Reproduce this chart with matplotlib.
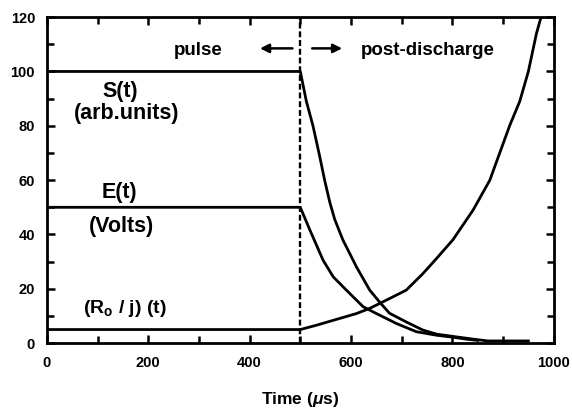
import matplotlib
matplotlib.use("Agg")
import matplotlib.pyplot as plt
from matplotlib.ticker import MultipleLocator

plt.rcParams['font.family'] = ['Liberation Sans', 'DejaVu Sans']
plt.rcParams['font.weight'] = 'bold'
plt.rcParams['mathtext.fontset'] = 'custom'
plt.rcParams['mathtext.rm'] = 'Liberation Sans:bold'
plt.rcParams['mathtext.bf'] = 'Liberation Sans:bold'
plt.rcParams['mathtext.it'] = 'Liberation Sans:italic:bold'

# Data
S_t = [0, 500, 512, 525, 538, 548, 558, 568, 584, 611, 637, 657, 676, 709, 742, 769, 800, 840, 870, 950]
S_v = [100, 100, 89, 80, 69, 60, 52, 45.5, 38, 28, 19.5, 15, 11, 7.8, 4.8, 3.3, 2.5, 1.5, 0.8, 0.8]

E_t = [0, 500, 519, 545, 565, 591, 624, 650, 690, 729, 769, 800, 830, 850]
E_v = [50, 50, 41.6, 30.5, 24.4, 19.5, 13.4, 10.9, 7.2, 4.2, 2.9, 2.2, 1.4, 1.0]

R_t = [0, 500, 532, 578, 611, 637, 676, 709, 742, 769, 801, 841, 874, 913, 933, 950, 966, 975]
R_v = [5, 5, 6.6, 9.1, 10.9, 12.8, 16.4, 19.5, 25.6, 31.2, 38, 49, 60, 80, 89, 100, 114, 120]

pulse_end = 500

fig = plt.figure(figsize=(5.72, 4.08), dpi=100)
ax = fig.add_axes([0.082, 0.159, 0.886, 0.799])

lw = 2.0
ax.plot(S_t, S_v, color='black', lw=lw)
ax.plot(E_t, E_v, color='black', lw=lw)
ax.plot(R_t, R_v, color='black', lw=lw)
ax.plot([pulse_end, pulse_end], [0, 120], color='black', lw=1.7, ls=(0, (2.5, 1.2)))

ax.set_xlim(0, 1000)
ax.set_ylim(0, 120)
ax.xaxis.set_major_locator(MultipleLocator(200))
ax.xaxis.set_minor_locator(MultipleLocator(100))
ax.yaxis.set_major_locator(MultipleLocator(20))
ax.yaxis.set_minor_locator(MultipleLocator(10))
ax.tick_params(which='both', direction='in', top=True, right=True, width=1.8, labelsize=10.5)
ax.tick_params(which='major', length=6)
ax.tick_params(which='minor', length=5)
ax.tick_params(axis='x', which='major', pad=9.5)
ax.tick_params(axis='y', which='major', pad=8.5)
for sp in ax.spines.values():
    sp.set_linewidth(2.0)
for lab in ax.get_xticklabels() + ax.get_yticklabels():
    lab.set_fontweight('bold')

ax.set_xlabel(r'Time ($\mathit{\mu}$s)', fontsize=12.5, fontweight='bold', labelpad=14)

fs_top = 13.5
fs_lab = 15.5
ax.text(298, 107.7, 'pulse', ha='center', va='center', fontsize=fs_top, fontweight='bold')
ax.text(752, 107.7, 'post-discharge', ha='center', va='center', fontsize=fs_top, fontweight='bold')
ax.annotate('', xy=(415, 108.5), xytext=(490, 108.5),
            arrowprops=dict(arrowstyle='-|>', color='black', lw=1.8, mutation_scale=13))
ax.annotate('', xy=(588, 108.5), xytext=(518, 108.5),
            arrowprops=dict(arrowstyle='-|>', color='black', lw=1.8, mutation_scale=13))

ax.text(144, 92.5, 'S(t)', ha='center', va='center', fontsize=fs_lab, fontweight='bold')
ax.text(158, 84.5, '(arb.units)', ha='center', va='center', fontsize=fs_lab, fontweight='bold')
ax.text(144, 55.5, 'E(t)', ha='center', va='center', fontsize=fs_lab, fontweight='bold')
ax.text(148, 42.8, '(Volts)', ha='center', va='center', fontsize=fs_lab, fontweight='bold')
ax.text(154, 12.9, r'(R$_{\mathrm{o}}$ / j) (t)', ha='center', va='center', fontsize=14, fontweight='bold')

fig.savefig('out.png', dpi=100)
